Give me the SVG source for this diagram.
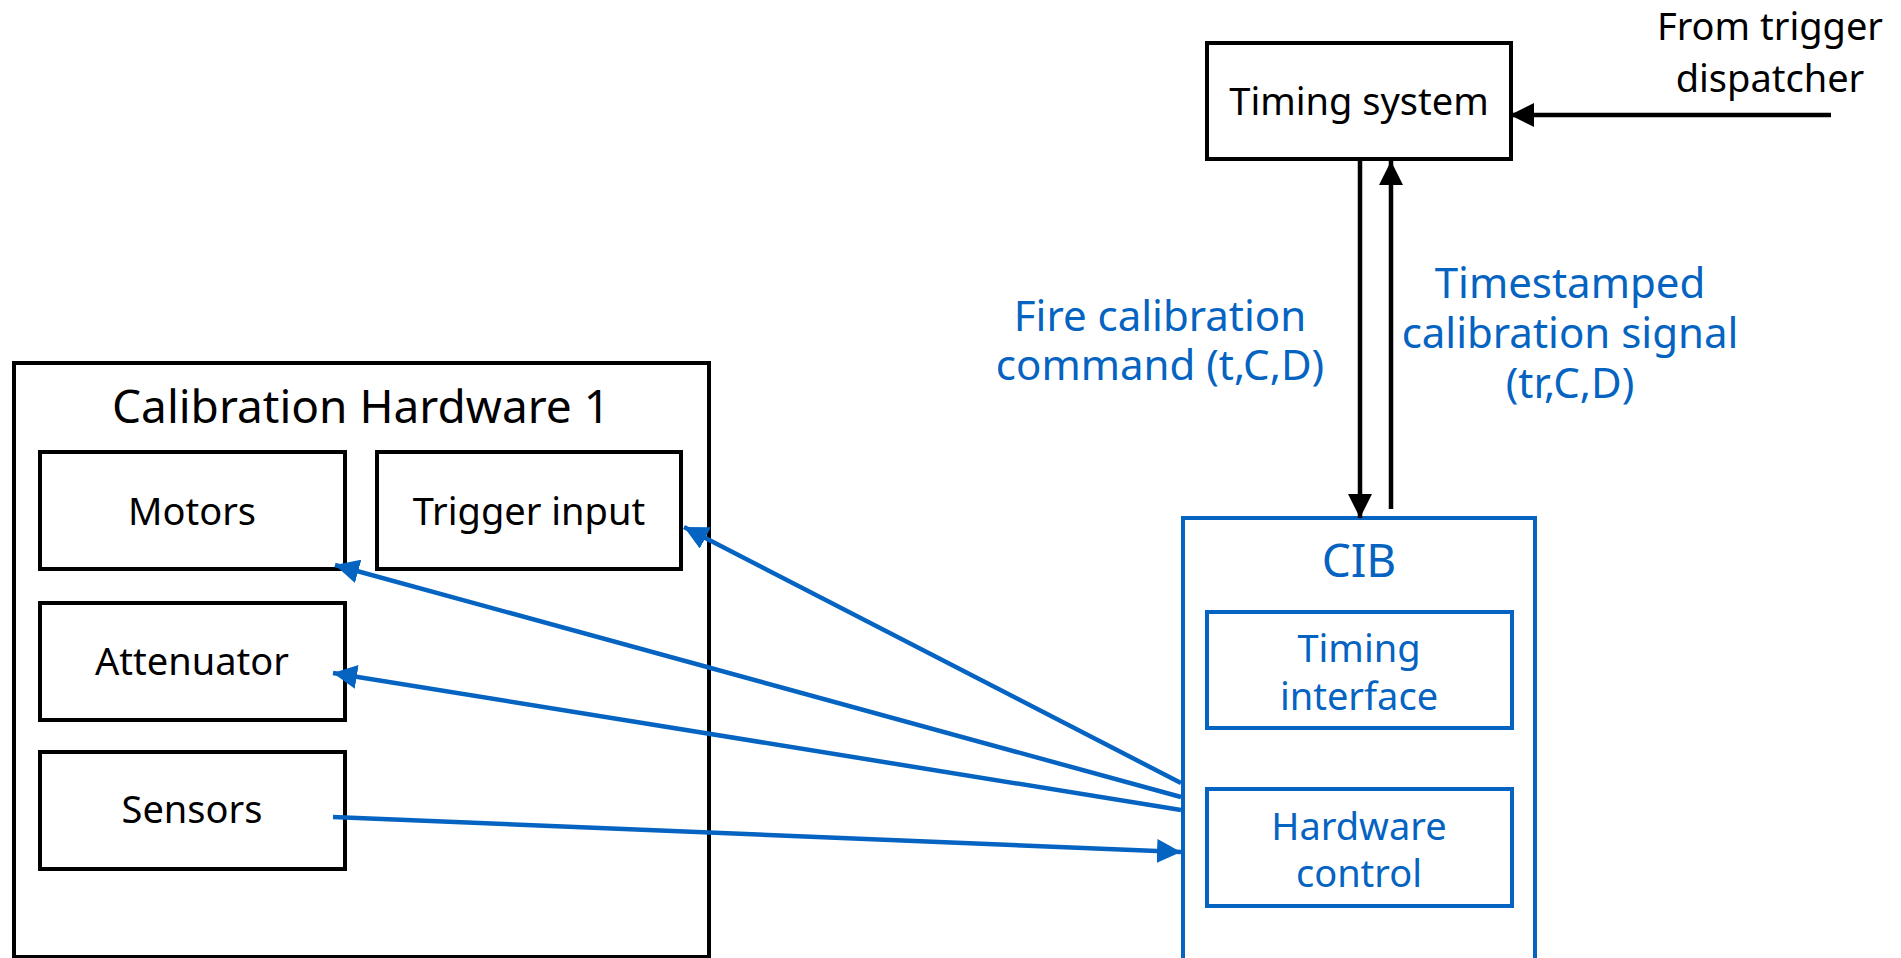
<svg xmlns="http://www.w3.org/2000/svg" width="1901" height="958" viewBox="0 0 1901 958">
<defs>
<style>
.bk{fill:#fff;stroke:#000;stroke-width:4}
.bl{fill:#fff;stroke:#0563C1;stroke-width:4}
text{font-family:"Noto Sans",Lato,sans-serif;text-anchor:middle;font-variant-ligatures:none}
.t{font-size:38px;fill:#000}
.tb{font-size:38px;fill:#0563C1}
.lb{font-size:42px;fill:#0563C1}
.big{font-size:46px}
.ck{stroke:#000;stroke-width:4.5;fill:none}
.cb{stroke:#0563C1;stroke-width:4.5;fill:none}
</style>
<marker id="ak" markerUnits="userSpaceOnUse" markerWidth="26" markerHeight="24" refX="24" refY="12" orient="auto"><path d="M0,0 L24,12 L0,24 Z" fill="#000"/></marker>
<marker id="ab" markerUnits="userSpaceOnUse" markerWidth="26" markerHeight="24" refX="24" refY="12" orient="auto"><path d="M0,0 L24,12 L0,24 Z" fill="#0563C1"/></marker>
</defs>
<rect width="1901" height="958" fill="#fff"/>
<g id="calhw">
<rect class="bk" x="14" y="363" width="695" height="594"/>
<text class="t big" x="361" y="423">Calibration Hardware 1</text>
</g>
<g id="motors"><rect class="bk" x="40" y="452" width="305" height="117"/><text class="t" x="192" y="525">Motors</text></g>
<g id="trigger"><rect class="bk" x="377" y="452" width="304" height="117"/><text class="t" x="529" y="525">Trigger input</text></g>
<g id="atten"><rect class="bk" x="40" y="603" width="305" height="117"/><text class="t" x="192" y="675">Attenuator</text></g>
<g id="sensors"><rect class="bk" x="40" y="752" width="305" height="117"/><text class="t" x="192" y="823">Sensors</text></g>
<g id="timing"><rect class="bk" x="1207" y="43" width="304" height="116"/><text class="t" x="1359" y="115">Timing system</text></g>
<g id="dispatcher"><text class="t" x="1770" y="40">From trigger<tspan x="1770" dy="52">dispatcher</tspan></text></g>
<g id="cib">
<rect class="bl" x="1183" y="518" width="352" height="470"/>
<text class="tb big" x="1359" y="577">CIB</text>
</g>
<g id="tif"><rect class="bl" x="1207" y="612" width="305" height="116"/><text class="tb" x="1359" y="662">Timing<tspan x="1359" dy="48">interface</tspan></text></g>
<g id="hwc"><rect class="bl" x="1207" y="789" width="305" height="117"/><text class="tb" x="1359" y="840">Hardware<tspan x="1359" dy="47">control</tspan></text></g>
<g id="connectors">
<line class="ck" x1="1831" y1="115" x2="1510" y2="115" marker-end="url(#ak)"/>
<line class="ck" x1="1360" y1="159" x2="1360" y2="518" marker-end="url(#ak)"/>
<line class="ck" x1="1391" y1="509" x2="1391" y2="161" marker-end="url(#ak)"/>
<line class="cb" x1="1181" y1="783" x2="684" y2="527" marker-end="url(#ab)"/>
<line class="cb" x1="1181" y1="797" x2="335" y2="565" marker-end="url(#ab)"/>
<line class="cb" x1="1181" y1="810" x2="333" y2="673" marker-end="url(#ab)"/>
<line class="cb" x1="333" y1="817" x2="1181" y2="852" marker-end="url(#ab)"/>
<text class="lb" x="1160" y="331">Fire calibration<tspan x="1160" dy="49">command (t,C,D)</tspan></text>
<text class="lb" x="1570" y="298">Timestamped<tspan x="1570" dy="50">calibration signal</tspan><tspan x="1570" dy="50">(tr,C,D)</tspan></text>
</g>
</svg>
